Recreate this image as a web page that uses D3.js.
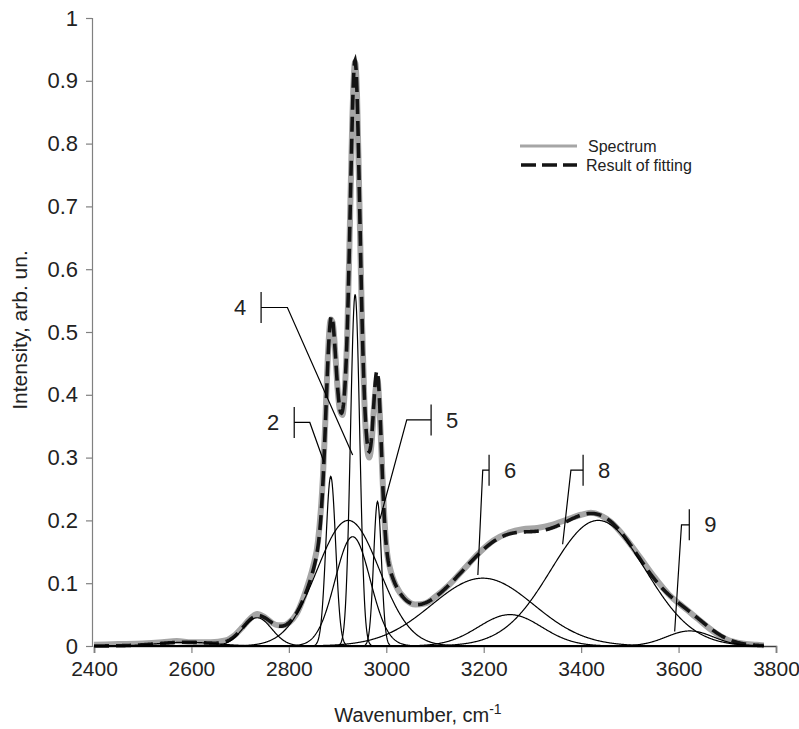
<!DOCTYPE html>
<html>
<head>
<meta charset="utf-8">
<script src="https://cdn.jsdelivr.net/npm/d3@7/dist/d3.min.js"></script>
<style>
  html, body { margin: 0; padding: 0; background: #ffffff; }
  svg { display: block; font-family: "Liberation Sans", Arial, sans-serif; }
</style>
</head>
<body>
<svg id="chart" width="799" height="729"></svg>
<script>
// ---------------- DATA ----------------
const xTicks = [2400, 2600, 2800, 3000, 3200, 3400, 3600, 3800];
const yTicks = [0, 0.1, 0.2, 0.3, 0.4, 0.5, 0.6, 0.7, 0.8, 0.9, 1];
const yTickLabels = ["0", "0.1", "0.2", "0.3", "0.4", "0.5", "0.6", "0.7", "0.8", "0.9", "1"];

const spectrumWn = [2400,2450,2500,2540,2570,2600,2640,2670,2690,2705,
  2720,2735,2750,2765,2778,2790,2800,2815,2830,2840,
  2850,2860,2870,2875,2880,2886,2890,2895,2900,2905,
  2910,2915,2920,2925,2930,2936,2940,2945,2950,2955,
  2960,2965,2970,2975,2982,2985,2990,2995,3000,3010,
  3020,3040,3060,3080,3100,3130,3160,3190,3220,3250,
  3280,3310,3340,3370,3400,3420,3440,3460,3490,3520,
  3550,3580,3610,3640,3670,3700,3730,3760,3775];
const spectrumI = [0.002,0.003,0.004,0.006,0.008,0.006,0.006,0.009,0.018,0.03,
  0.043,0.051,0.046,0.037,0.033,0.033,0.037,0.05,0.077,0.1,
  0.127,0.168,0.27,0.36,0.46,0.52,0.515,0.47,0.41,0.375,
  0.368,0.41,0.5,0.66,0.83,0.93,0.875,0.7,0.52,0.39,
  0.32,0.3,0.325,0.382,0.425,0.395,0.31,0.22,0.16,0.117,
  0.096,0.074,0.066,0.068,0.078,0.098,0.123,0.148,0.168,0.18,
  0.186,0.188,0.193,0.201,0.209,0.212,0.208,0.198,0.173,0.142,
  0.11,0.082,0.062,0.043,0.024,0.01,0.004,0.002,0.001];

// Fitted Gaussian components: centre (cm-1), height, sigma (cm-1)
const peakCenters = [2590, 2735, 2886, 2922, 2931, 2936, 2982, 3198, 3254, 3435, 3623];
const peakHeights = [0.006, 0.045, 0.27, 0.2, 0.174, 0.56, 0.23, 0.108, 0.05, 0.2, 0.024];
const peakSigmas  = [60, 30, 10, 64, 36, 9.5, 8, 105, 65, 97, 48];
const fitRange = [2400, 3775];

// Component labels: text, bar position (wavenumber, intensity), elbow wavenumber, target point
const labelText   = ["2", "4", "5", "6", "8", "9"];
const labelBarWn  = [2811, 2743, 3092, 3211, 3404, 3622];
const labelBarI   = [0.356, 0.539, 0.36, 0.28, 0.28, 0.193];
const labelElbowWn= [2843, 2797, 3042, 3198, 3379, 3606];
const labelTgtWn  = [2872, 2931, 2987, 3188, 3362, 3592];
const labelTgtI   = [0.293, 0.304, 0.202, 0.113, 0.162, 0.023];
const labelSide   = [-1, -1, 1, 1, 1, 1];

const legendItems = ["Spectrum", "Result of fitting"];

// ---------------- CHART ----------------
const svg = d3.select("#chart");
const x = d3.scaleLinear().domain([2400, 3800]).range([94, 776]);
const y = d3.scaleLinear().domain([0, 1]).range([646, 18]);

const gauss = (w, i) => peakHeights[i] * Math.exp(-((w - peakCenters[i]) ** 2) / (2 * peakSigmas[i] ** 2));
const grid = d3.range(fitRange[0], fitRange[1] + 0.5, 1);

// axes
const yAxis = svg.append("g").attr("transform", "translate(92,0)")
  .call(d3.axisLeft(y).tickValues(yTicks).tickFormat((d, i) => yTickLabels[i]).tickSize(6).tickPadding(8));
yAxis.select(".domain").attr("stroke", "#808080").attr("stroke-width", 1.2);
yAxis.selectAll(".tick line").attr("stroke", "#808080").attr("stroke-width", 1.2);
yAxis.selectAll(".tick text").attr("font-size", 22).attr("fill", "#222")
  .attr("font-family", "'Liberation Sans', Arial, sans-serif");

const xAxis = svg.append("g").attr("transform", "translate(0,646)")
  .call(d3.axisBottom(x).tickValues(xTicks).tickFormat(d3.format("d")).tickSize(7).tickPadding(8));
xAxis.select(".domain").attr("stroke", "#404040").attr("stroke-width", 1.5);
xAxis.selectAll(".tick line").attr("stroke", "#808080").attr("stroke-width", 1.2);
xAxis.selectAll(".tick text").attr("font-size", 21).attr("fill", "#222")
  .attr("font-family", "'Liberation Sans', Arial, sans-serif");

// spectrum
const specData = spectrumWn.map((w, i) => [w, spectrumI[i]]);
svg.append("path").datum(specData)
  .attr("fill", "none").attr("stroke", "#a6a6a6").attr("stroke-width", 6)
  .attr("stroke-linejoin", "round")
  .attr("d", d3.line().x(d => x(d[0])).y(d => y(d[1])).curve(d3.curveMonotoneX));

// fit (sum of components)
const fitData = grid.map(w => [w, d3.sum(peakCenters, (c, i) => gauss(w, i))]);
svg.append("path").datum(fitData)
  .attr("fill", "none").attr("stroke", "#141414").attr("stroke-width", 3.6)
  .attr("stroke-dasharray", "15,7")
  .attr("d", d3.line().x(d => x(d[0])).y(d => y(d[1])));

// components
const lineComp = d3.line().x(d => x(d[0])).y(d => y(d[1]));
peakCenters.forEach((c, i) => {
  const data = grid.map(w => [w, gauss(w, i)]);
  svg.append("path").datum(data)
    .attr("fill", "none").attr("stroke", "#000").attr("stroke-width", 1.2)
    .attr("d", lineComp);
});

// labels
const ann = svg.append("g");
labelText.forEach((t, i) => {
  const bx = x(labelBarWn[i]), by = y(labelBarI[i]);
  const ex = x(labelElbowWn[i]);
  const tx = x(labelTgtWn[i]), ty = y(labelTgtI[i]);
  ann.append("line").attr("x1", bx).attr("x2", bx).attr("y1", by - 15.5).attr("y2", by + 15.5)
    .attr("stroke", "#000").attr("stroke-width", 1.2);
  ann.append("polyline").attr("points", `${bx},${by} ${ex},${by} ${tx},${ty}`)
    .attr("fill", "none").attr("stroke", "#000").attr("stroke-width", 1.2);
  ann.append("text").attr("x", bx + labelSide[i] * 21).attr("y", by)
    .attr("dy", "0.35em").attr("text-anchor", "middle")
    .attr("font-size", 22).attr("fill", "#222").text(t);
});

// legend
const lg = svg.append("g");
lg.append("line").attr("x1", 520).attr("x2", 577).attr("y1", 146).attr("y2", 146)
  .attr("stroke", "#a6a6a6").attr("stroke-width", 3);
lg.append("text").attr("x", 588).attr("y", 152).attr("font-size", 16).attr("fill", "#222").text(legendItems[0]);
lg.append("line").attr("x1", 521).attr("x2", 577).attr("y1", 165).attr("y2", 165)
  .attr("stroke", "#141414").attr("stroke-width", 3.5).attr("stroke-dasharray", "15,6");
lg.append("text").attr("x", 586).attr("y", 171).attr("font-size", 16).attr("fill", "#222").text(legendItems[1]);

// axis titles
const xt = svg.append("text").attr("x", 418).attr("y", 722).attr("text-anchor", "middle")
  .attr("font-size", 20).attr("fill", "#222");
xt.append("tspan").text("Wavenumber, cm");
xt.append("tspan").attr("dy", -8).attr("font-size", 14).text("-1");

svg.append("text").attr("transform", "translate(27,330) rotate(-90)")
  .attr("text-anchor", "middle").attr("font-size", 21).attr("fill", "#222")
  .text("Intensity, arb. un.");
</script>
</body>
</html>
